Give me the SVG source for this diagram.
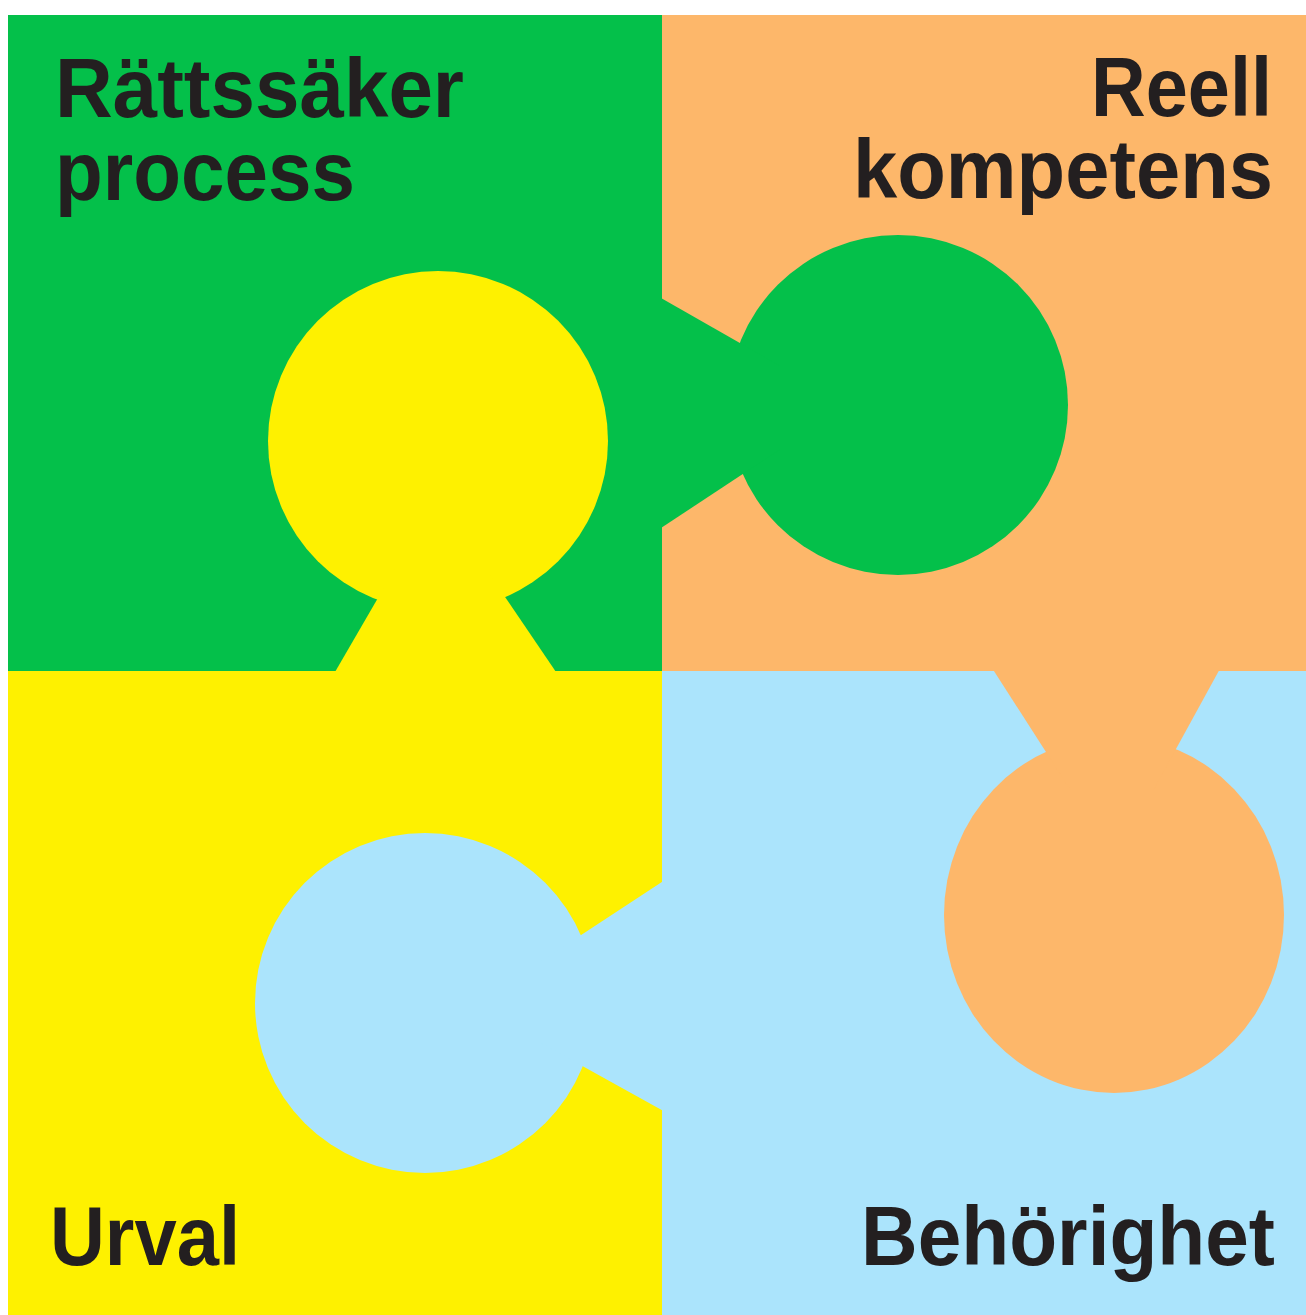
<svg xmlns="http://www.w3.org/2000/svg" width="1306" height="1315" viewBox="0 0 1306 1315">
  <style>
    .green{fill:#04c04a}
    .orange{fill:#fdb76a}
    .yellow{fill:#fef100}
    .blue{fill:#abe4fc}
    .label{font-family:"Liberation Sans",Arial,Helvetica,sans-serif;font-weight:bold;font-size:84px;fill:#231f20}
  </style>
  <rect x="0" y="0" width="1306" height="1315" fill="#ffffff"/>
  <g id="quadrants">
    <rect id="q-green" class="green" x="8" y="15" width="654.5" height="656.5"/>
    <rect id="q-orange" class="orange" x="662" y="15" width="644" height="656.5"/>
    <rect id="q-yellow" class="yellow" x="8" y="671" width="654.5" height="644"/>
    <rect id="q-blue" class="blue" x="662" y="671" width="644" height="644"/>
  </g>
  <g id="piece-yellow" class="yellow">
    <circle cx="438" cy="441" r="170"/>
    <polygon points="400,560 480,560 556,672 335,672"/>
  </g>
  <g id="piece-green" class="green">
    <circle cx="898" cy="405" r="170"/>
    <polygon points="661,298 780,366 780,449.5 661,528"/>
  </g>
  <g id="piece-orange" class="orange">
    <ellipse cx="1114" cy="915" rx="170" ry="178"/>
    <polygon points="993.3,670 1219.3,670 1153.5,790 1070.4,790"/>
  </g>
  <g id="piece-blue" class="blue">
    <circle cx="425" cy="1003" r="170"/>
    <polygon points="540,962 663,881.3 663,1110.7 540,1042.4"/>
  </g>
  <g id="node-rattssaker">
    <text class="label" x="55" y="117" textLength="409" lengthAdjust="spacingAndGlyphs">Rättssäker</text>
    <text class="label" x="55" y="200" textLength="300" lengthAdjust="spacingAndGlyphs">process</text>
  </g>
  <g id="node-reell">
    <text class="label" x="1091" y="116" textLength="181" lengthAdjust="spacingAndGlyphs">Reell</text>
    <text class="label" x="853" y="198" textLength="420" lengthAdjust="spacingAndGlyphs">kompetens</text>
  </g>
  <g id="node-urval">
    <text class="label" x="50" y="1265" textLength="190" lengthAdjust="spacingAndGlyphs">Urval</text>
  </g>
  <g id="node-behorighet">
    <text class="label" x="861" y="1265" textLength="414" lengthAdjust="spacingAndGlyphs">Behörighet</text>
  </g>
</svg>
